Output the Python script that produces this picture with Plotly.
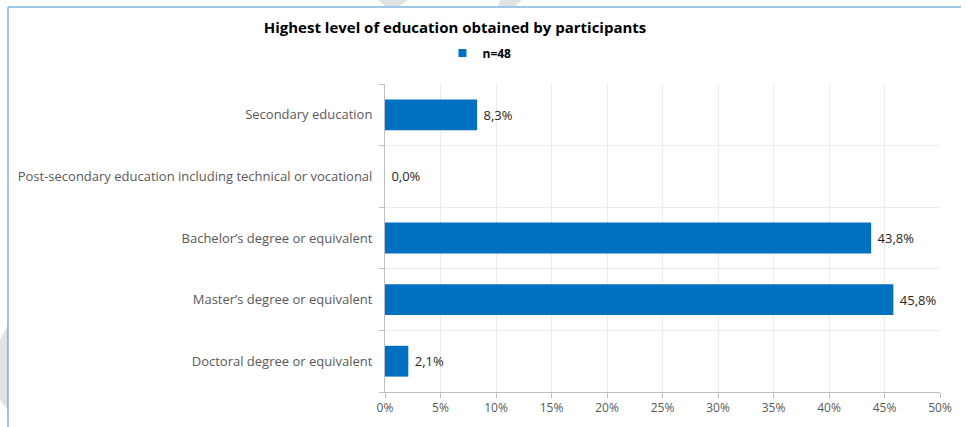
import plotly.graph_objects as go

categories = [
    "Secondary education",
    "Post-secondary education including technical or vocational",
    "Bachelor’s degree or equivalent",
    "Master’s degree or equivalent",
    "Doctoral degree or equivalent",
]
values = [8.3, 0.0, 43.8, 45.8, 2.1]
series_name = "n=48"
title_text = "Highest level of education obtained by participants"
x_ticks = [0, 5, 10, 15, 20, 25, 30, 35, 40, 45, 50]

W, H = 967, 427
L, R, T, B = 385, 27, 84, 35
PW, PH = W - L - R, H - T - B
BLUE = "#0070C0"
labels = ["\u00a0" + f"{v:.1f}%".replace(".", ",") for v in values]

fig = go.Figure()
fig.add_trace(go.Bar(
    y=categories, x=values, orientation="h", name=series_name,
    marker=dict(color=BLUE, line=dict(width=0)),
    width=0.5,
    text=labels, textposition="outside", cliponaxis=False,
    textfont=dict(family="Open Sans, sans-serif", size=13, color="#262626"),
    showlegend=False, hoverinfo="skip",
))
# legend entry with a small square marker
fig.add_trace(go.Scatter(
    x=[None], y=[None], mode="markers", name=series_name,
    marker=dict(symbol="square", size=8, color=BLUE), showlegend=True,
))

def px(x, y):
    return (x - L) / PW, (H - B - y) / PH

def poly(pts):
    c = [px(x, y) for x, y in pts]
    return "M " + " L ".join(f"{a},{b}" for a, b in c) + " Z"

shapes = []
# faint watermark fragments
for pts in ([(378, 0), (408, 0), (400, 6), (385, 6)],
            [(500, 0), (522, 0), (515, 6), (498, 6)],
            [(0, 340), (8, 325), (8, 410), (0, 400)]):
    shapes.append(dict(type="path", xref="paper", yref="paper", layer="below",
                       path=poly(pts), fillcolor="#e2e2e2", line=dict(width=0)))
# blue frame (top and left)
x0, y0 = px(8, 7)
x1, _ = px(961, 7)
_, yb = px(8, H)
shapes.append(dict(type="line", xref="paper", yref="paper",
                   x0=x0, x1=x1, y0=y0, y1=y0, line=dict(color="#3d8fd1", width=1)))
shapes.append(dict(type="line", xref="paper", yref="paper",
                   x0=x0, x1=x0, y0=y0, y1=yb, line=dict(color="#3d8fd1", width=1)))

fig.update_layout(
    width=W, height=H,
    margin=dict(l=L, r=R, t=T, b=B, autoexpand=False),
    paper_bgcolor="white", plot_bgcolor="white",
    font=dict(family="Open Sans, sans-serif", size=12, color="#595959"),
    title=dict(text=title_text, x=455 / W, xanchor="center", xref="container",
               y=1 - 28 / H, yanchor="middle", yref="container",
               font=dict(family="Open Sans, sans-serif", size=15, color="#000000", weight="bold")),
    legend=dict(orientation="h", xref="container", yref="container",
                x=487 / W, xanchor="center", y=1 - 53 / H, yanchor="middle",
                font=dict(size=12, color="#000000", weight="bold"),
                itemwidth=30, indentation=-15, bgcolor="rgba(0,0,0,0)"),
    xaxis=dict(range=[0, 50], tickvals=x_ticks, ticktext=[f"{t}%" for t in x_ticks],
               showgrid=True, gridcolor="#ececec", gridwidth=1,
               showline=True, linecolor="#bfbfbf", linewidth=1,
               ticks="outside", ticklen=5, tickcolor="#bfbfbf", automargin=False,
               tickfont=dict(size=12, color="#595959"), zeroline=False, fixedrange=True),
    yaxis=dict(categoryorder="array", categoryarray=categories[::-1],
               autorange=False, range=[-0.5, 4.5], automargin=False,
               tickson="boundaries", ticks="outside", ticklen=5, tickcolor="#bfbfbf",
               showgrid=True, gridcolor="#ececec", gridwidth=1,
               showline=True, linecolor="#bfbfbf", linewidth=1,
               ticklabelstandoff=9,
               tickfont=dict(size=13, color="#595959"), fixedrange=True),
    shapes=shapes,
)

fig.write_html("out.html", config={"displayModeBar": False},
               post_script="document.body.style.margin='0';")
